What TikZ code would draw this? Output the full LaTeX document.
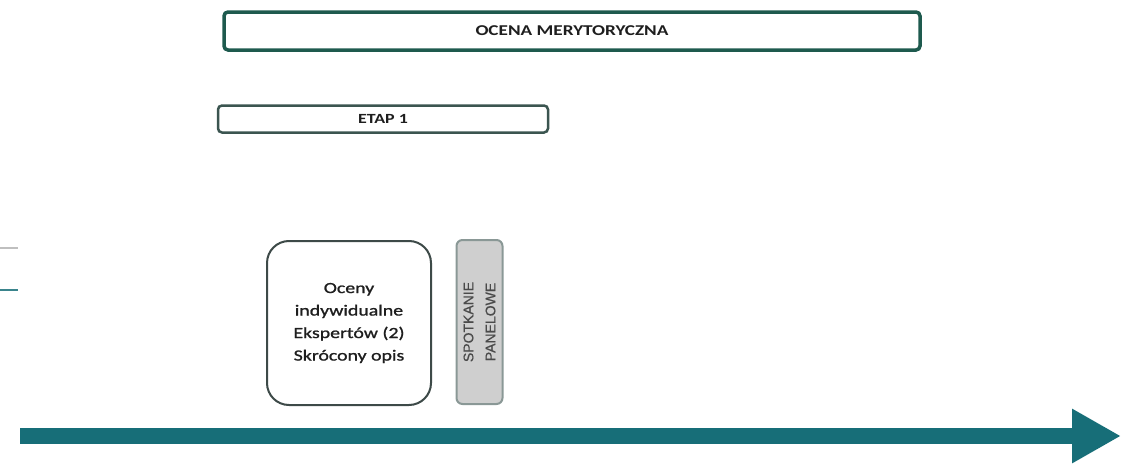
\documentclass[tikz,border=0pt]{standalone}
\usepackage{fontspec}
\setmainfont{Carlito}[FakeStretch=1.28]
\newfontfamily\heavyfont{Carlito}[FakeStretch=1.28,FakeBold=1.2]
\newfontfamily\panelfont{Liberation Sans}[FakeBold=0.6]
\usetikzlibrary{arrows.meta}
\definecolor{tealarrow}{HTML}{176E78}
\definecolor{topborder}{HTML}{1E5A4E}
\definecolor{etapborder}{HTML}{3B5550}
\definecolor{boxborder}{HTML}{3D4A48}
\definecolor{panelfill}{HTML}{CFCFCF}
\definecolor{panelborder}{HTML}{8A9896}
\definecolor{textdark}{HTML}{1E1E1E}
\definecolor{textgray}{HTML}{4A4A4A}
\tikzset{
  headerbox/.style={draw=topborder, line width=3.5pt, rounded corners=4pt, minimum width=696pt, minimum height=38pt, inner sep=0pt, text=textdark, font=\bfseries\fontsize{15pt}{18pt}\selectfont},
  etapbox/.style={draw=etapborder, line width=2.5pt, rounded corners=4pt, minimum width=330pt, minimum height=27pt, inner sep=0pt, text=textdark, font=\bfseries\fontsize{14pt}{17pt}\selectfont},
  evalbox/.style={draw=boxborder, line width=2pt, rounded corners=22pt, minimum width=164pt, minimum height=164pt, inner sep=0pt, align=center, text=textdark, font=\heavyfont\fontsize{15.5pt}{22.5pt}\selectfont},
  panelbox/.style={draw=panelborder, fill=panelfill, line width=2pt, rounded corners=6pt, minimum width=164pt, minimum height=46pt, inner sep=0pt, rotate=90, align=center, text=textgray, font=\panelfont\fontsize{14pt}{22pt}\selectfont},
  timeline/.style={draw=tealarrow, line width=16pt, -{Triangle[length=49pt,width=51pt]}},
  leftmark/.style={line width=1.5pt}
}
\begin{document}
\begin{tikzpicture}[x=1pt,y=-1pt]
\useasboundingbox (0,0) rectangle (1122,471);
\node[headerbox] (ocena) at (572,31) {OCENA MERYTORYCZNA};
\node[etapbox] (etap) at (383,119) {ETAP 1};
\node[evalbox] (oceny) at (349,323) {Oceny\\indywidualne\\Ekspertów (2)\\Skrócony opis};
\node[panelbox] (panel) at (479.5,322) {SPOTKANIE\\PANELOWE};
\coordinate (lg1) at (0,248);
\coordinate (lg2) at (18,248);
\coordinate (lt1) at (0,290);
\coordinate (lt2) at (18,290);
\draw[leftmark, draw=black!25] (lg1) -- (lg2);
\draw[leftmark, draw=tealarrow!85] (lt1) -- (lt2);
\coordinate (tstart) at (20,436);
\coordinate (tend) at (1121,436);
\draw[timeline] (tstart) -- (tend);
\end{tikzpicture}
\end{document}
